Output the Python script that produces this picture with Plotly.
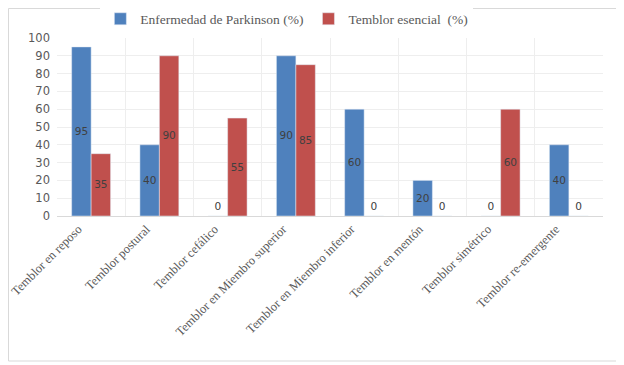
import plotly.graph_objects as go

categories = ["Temblor en reposo", "Temblor postural", "Temblor cefálico",
              "Temblor en Miembro superior", "Temblor en Miembro inferior",
              "Temblor en mentón", "Temblor simétrico", "Temblor re-emergente"]
parkinson = [95, 40, 0, 90, 60, 20, 0, 40]
esencial = [35, 90, 55, 85, 0, 0, 60, 0]
series_names = ["Enfermedad de Parkinson (%)", "Temblor esencial  (%)"]
y_ticks = list(range(0, 101, 10))

# page has an 8px body margin
W, H = 616, 357
L, R, T, B = 49, 21, 30, 149
pw, ph = W - L - R, H - T - B

def pos(vals):
    return ["inside" if v > 0 else "outside" for v in vals]

fig = go.Figure()
for name, vals, col in [(series_names[0], parkinson, "#4F81BD"),
                        (series_names[1], esencial, "#C0504D")]:
    fig.add_trace(go.Bar(
        x=categories, y=vals, name=name, marker_color=col,
        text=[str(v) for v in vals], textposition=pos(vals),
        insidetextanchor="middle", cliponaxis=False,
        textfont=dict(color="#404040", size=12, family="DejaVu Sans"),
        textangle=0,
    ))

# outer frame
x0 = (0.5 - L) / pw
x1 = (611 - L) / pw
y1 = (H - B - 0.5) / ph
y0 = (H - B - 353) / ph

fig.update_layout(
    width=W, height=H,
    margin=dict(l=L, r=R, t=T, b=B, autoexpand=False),
    paper_bgcolor="white", plot_bgcolor="white",
    barmode="group", bargap=0.43, bargroupgap=0,
    uniformtext=dict(minsize=8, mode="show"),
    legend=dict(orientation="h", x=0.421, xanchor="center", y=(H - B - 11) / ph, yanchor="middle",
                font=dict(family="Liberation Serif", size=13.5, color="#595959"),
                itemwidth=30, traceorder="normal"),
    showlegend=True,
    shapes=[dict(type="rect", xref="paper", yref="paper", x0=x0, x1=x1, y0=y0, y1=y1,
                 line=dict(color="#D9D9D9", width=1), layer="below")],
    xaxis=dict(tickangle=-45, tickson="boundaries", showgrid=True, gridcolor="#EEEEEE",
               ticks="", showline=True, linecolor="#D9D9D9", automargin=False,
               ticklabelshift=-13, ticklabelstandoff=0,
               tickfont=dict(family="Liberation Serif", size=12.5, color="#595959")),
    yaxis=dict(range=[0, 100], tickvals=y_ticks, showgrid=True, gridcolor="#EEEEEE",
               zeroline=False, ticks="", automargin=False, ticklabelstandoff=6,
               tickfont=dict(family="DejaVu Sans", size=11.5, color="#595959")),
)
fig.write_html("out.html")
